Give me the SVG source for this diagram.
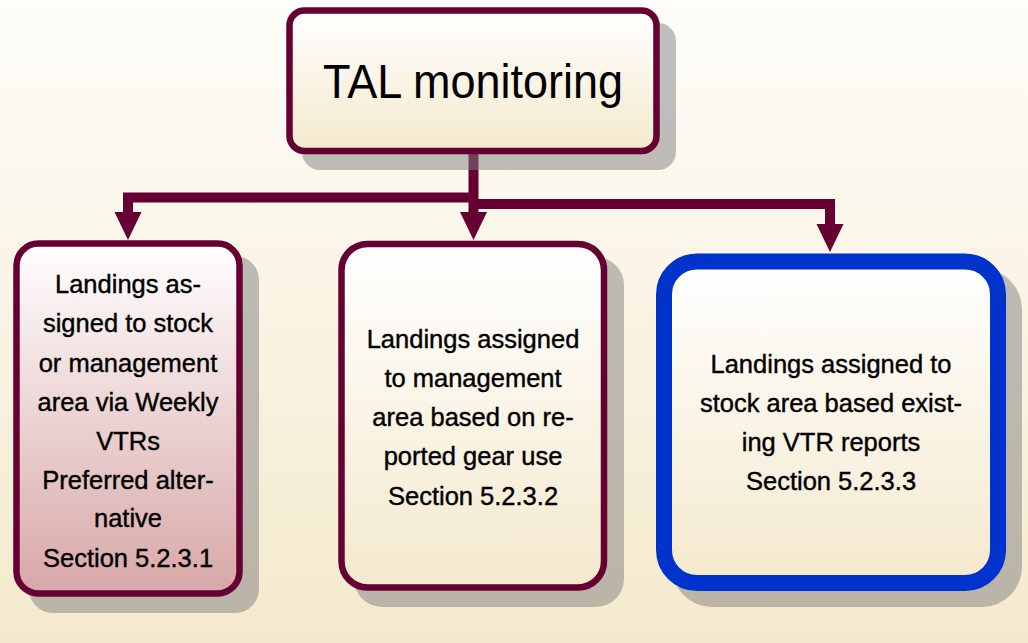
<svg xmlns="http://www.w3.org/2000/svg" width="1028" height="643" viewBox="0 0 1028 643">
  <defs>
    <linearGradient id="bg" x1="0" y1="0" x2="0" y2="1">
      <stop offset="0" stop-color="#fefdfa"/>
      <stop offset="1" stop-color="#f4e9cc"/>
    </linearGradient>
    <linearGradient id="cream" x1="0" y1="0" x2="0" y2="1">
      <stop offset="0" stop-color="#ffffff"/>
      <stop offset="1" stop-color="#f4e9cd"/>
    </linearGradient>
    <linearGradient id="pink" x1="0" y1="0" x2="0" y2="1">
      <stop offset="0" stop-color="#ffffff"/>
      <stop offset="1" stop-color="#d8a7a7"/>
    </linearGradient>
    <marker id="arrow" markerUnits="userSpaceOnUse" markerWidth="28" markerHeight="28" refX="0" refY="13.5" orient="auto" viewBox="0 0 28 27">
      <path d="M0,0 L28,13.5 L0,27 Z" fill="#660033"/>
    </marker>
    <style>
      .shadow { fill: #808080; fill-opacity: 0.5; }
      .box { stroke: #660033; stroke-width: 6.5; }
      .blue { stroke: #0033cc; stroke-width: 16; }
      .conn { fill: none; stroke: #660033; stroke-width: 10; stroke-linejoin: miter; stroke-linecap: butt; }
      .t { font-family: "Liberation Sans", Arial, sans-serif; font-size: 25.5px; fill: #000; stroke: #000; stroke-width: 0.4; text-anchor: middle; }
      .title { font-family: "Liberation Sans", Arial, sans-serif; font-size: 48px; fill: #000; text-anchor: middle; }
    </style>
  </defs>

  <rect x="0" y="0" width="1028" height="643" fill="url(#bg)"/>

  <g id="connectors">
    <path class="conn" d="M473.5,154 V212" marker-end="url(#arrow)"/>
    <path class="conn" d="M473.5,197.5 H128 V212" stroke-width="9" marker-end="url(#arrow)"/>
    <path class="conn" d="M473.5,204 H830 V224" marker-end="url(#arrow)"/>
  </g>

  <g id="node-top">
    <rect class="shadow" x="302" y="23" width="374" height="147" rx="18"/>
    <rect class="box" x="289.5" y="10.5" width="367" height="140.5" rx="15" fill="url(#cream)"/>
    <text class="title" x="473" y="98" textLength="300" lengthAdjust="spacingAndGlyphs">TAL monitoring</text>
  </g>

  <g id="node-left">
    <rect class="shadow" x="29" y="256" width="230" height="357" rx="24"/>
    <rect class="box" x="16.5" y="243.5" width="223" height="350" rx="22" fill="url(#pink)"/>
    <text class="t" x="128" y="293">Landings as-</text>
    <text class="t" x="128" y="332">signed to stock</text>
    <text class="t" x="128" y="372">or management</text>
    <text class="t" x="128" y="411">area via Weekly</text>
    <text class="t" x="128" y="450">VTRs</text>
    <text class="t" x="128" y="489">Preferred alter-</text>
    <text class="t" x="128" y="527">native</text>
    <text class="t" x="128" y="567">Section 5.2.3.1</text>
  </g>

  <g id="node-middle">
    <rect class="shadow" x="354" y="257" width="270" height="350" rx="28"/>
    <rect class="box" x="341.5" y="244" width="262.5" height="343.5" rx="26" fill="url(#cream)"/>
    <text class="t" x="473" y="348">Landings assigned</text>
    <text class="t" x="473" y="387">to management</text>
    <text class="t" x="473" y="426">area based on re-</text>
    <text class="t" x="473" y="465">ported gear use</text>
    <text class="t" x="473" y="505">Section 5.2.3.2</text>
  </g>

  <g id="node-right">
    <rect class="shadow" x="672" y="269" width="350" height="338" rx="40"/>
    <rect class="blue" x="664" y="261.5" width="334" height="321.5" rx="33" fill="url(#cream)"/>
    <text class="t" x="831" y="373">Landings assigned to</text>
    <text class="t" x="831" y="412">stock area based exist-</text>
    <text class="t" x="831" y="451">ing VTR reports</text>
    <text class="t" x="831" y="490">Section 5.2.3.3</text>
  </g>
</svg>
